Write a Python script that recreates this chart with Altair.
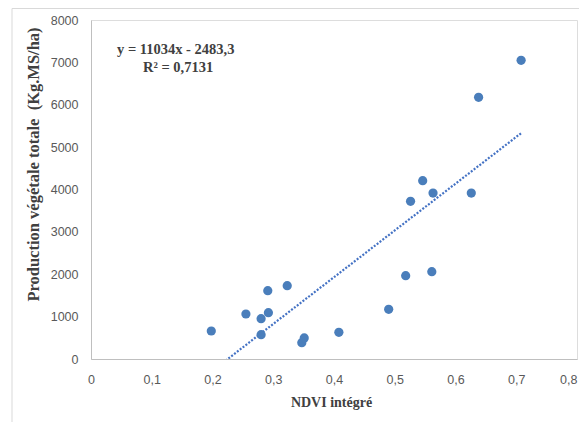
import altair as alt
import pandas as pd

# Data
ndvi = [0.198, 0.255, 0.280, 0.291, 0.292, 0.280, 0.323, 0.347, 0.351, 0.408,
        0.490, 0.518, 0.526, 0.546, 0.561, 0.563, 0.626, 0.638, 0.708]
production = [661, 1062, 951, 1612, 1093, 573, 1730, 385, 496, 629,
              1172, 1966, 3721, 4208, 2060, 3917, 3917, 6175, 7049]

slope = 11034
intercept = -2483.3
equation_lines = ["y = 11034x - 2483,3", "R² = 0,7131"]

x_ticks = [0, 0.1, 0.2, 0.3, 0.4, 0.5, 0.6, 0.7, 0.8]
y_ticks = [0, 1000, 2000, 3000, 4000, 5000, 6000, 7000, 8000]

df = pd.DataFrame({"ndvi": ndvi, "prod": production})
xs = [min(ndvi), max(ndvi)]
trend = pd.DataFrame({"ndvi": xs, "prod": [slope * v + intercept for v in xs]})

point_color = "#4A7EBB"
axis_color = "#BFBFBF"
label_color = "#595959"
title_color = "#404040"

x_scale = alt.Scale(domain=[0, 0.8], nice=False, zero=True)
y_scale = alt.Scale(domain=[0, 8000], nice=False)

x_axis = alt.Axis(
    values=x_ticks, ticks=False, grid=False, domainColor=axis_color,
    labelExpr="datum.value == 0 ? '0' : replace(format(datum.value, '.1f'), '.', ',')",
    labelFont="Liberation Sans", labelFontSize=12.5, labelColor=label_color,
    labelPadding=14, labelFlush=False, labelOverlap=False,
    labelAlign={"condition": {"test": "datum.value >= 0.79", "value": "right"}, "value": "center"},
    title="NDVI intégré", titleFont="Liberation Serif",
    titleFontSize=14, titleFontWeight="bold", titleColor=title_color,
    titleY=43, titleX=240, titleBaseline="middle", titleAlign="center",
)
y_axis = alt.Axis(
    values=y_ticks, ticks=False, grid=False, domainColor=axis_color, format="d",
    labelFont="Liberation Sans", labelFontSize=12.5, labelColor=label_color,
    labelPadding=13, labelFlush=False, labelOverlap=False,
    title="Production végétale totale \u00a0(Kg.MS/ha)",
    titleFont="Liberation Serif", titleFontSize=16.5, titleFontWeight="bold",
    titleColor=title_color, titleX=-58, titleY=144, titleAngle=270,
    titleAlign="center", titleBaseline="middle",
)

points = alt.Chart(df).mark_circle(size=85, opacity=1, color=point_color).encode(
    x=alt.X("ndvi:Q", scale=x_scale, axis=x_axis),
    y=alt.Y("prod:Q", scale=y_scale, axis=y_axis),
)

line = alt.Chart(trend).mark_line(
    color="#4472C4", strokeWidth=2.2, strokeDash=[2, 1.6], clip=True
).encode(
    x=alt.X("ndvi:Q", scale=x_scale),
    y=alt.Y("prod:Q", scale=y_scale),
)

eq_df = pd.DataFrame({"t": [equation_lines[0]]})
r2_df = pd.DataFrame({"t": [equation_lines[1]]})
eq_text = alt.Chart(eq_df).mark_text(
    align="left", baseline="middle", font="Liberation Serif", fontSize=14.5,
    fontWeight="bold", color=title_color
).encode(x=alt.value(26), y=alt.value(30), text="t:N")
r2_text = alt.Chart(r2_df).mark_text(
    align="left", baseline="middle", font="Liberation Serif", fontSize=14.5,
    fontWeight="bold", color=title_color
).encode(x=alt.value(52), y=alt.value(48), text="t:N")

frame_left = alt.Chart(eq_df).mark_rule(color="#D9D9D9", strokeWidth=1, clip=False).encode(
    x=alt.value(-79), y=alt.value(-11.5), y2=alt.value(420)
)
frame_top = alt.Chart(eq_df).mark_rule(color="#D9D9D9", strokeWidth=1, clip=False).encode(
    x=alt.value(-79), x2=alt.value(500), y=alt.value(-11.5)
)

chart = alt.layer(frame_left, frame_top, line, points, eq_text, r2_text).properties(
    width=486, height=339,
    autosize=alt.AutoSizeParams(type="none"),
    padding={"left": 83, "top": 12, "right": 2, "bottom": 63},
).configure_view(strokeWidth=0).configure(background="white")

chart.save("out.html", embed_options={"renderer": "svg", "actions": False})
